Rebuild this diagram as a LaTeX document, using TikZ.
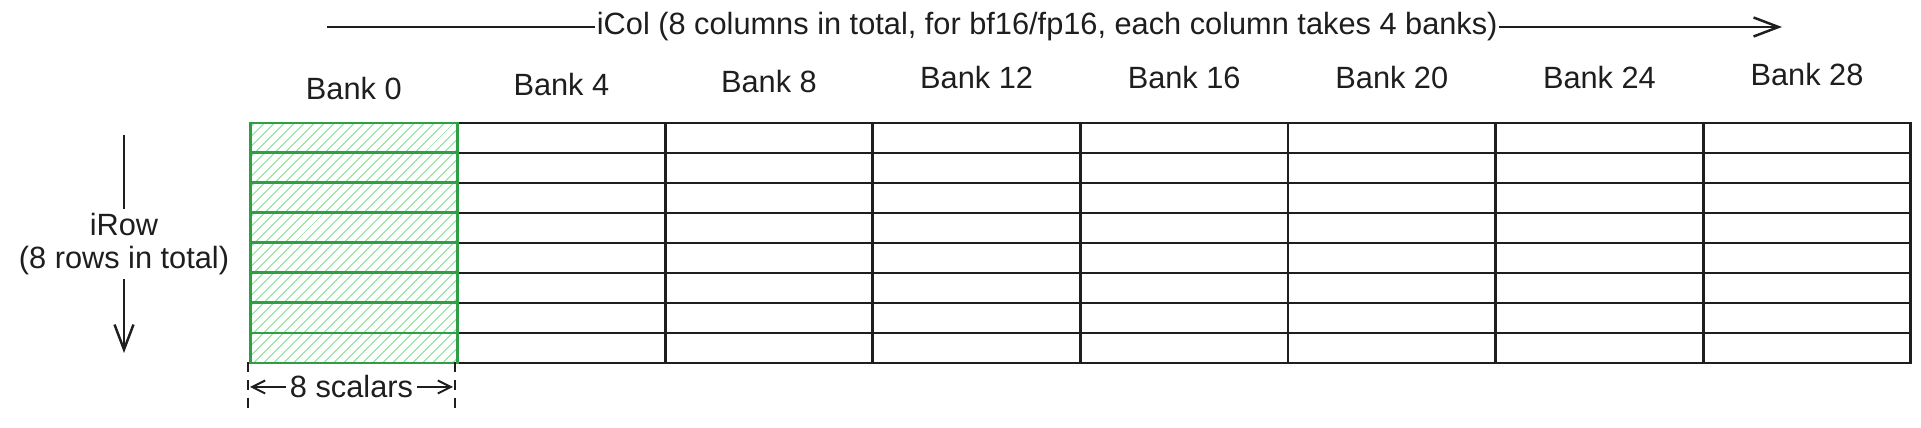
\documentclass[tikz,border=0pt]{standalone}
\usepackage{fontspec}
\setmainfont{Liberation Sans}
\usetikzlibrary{arrows.meta,patterns.meta}
\definecolor{ink}{HTML}{1E1E1E}
\definecolor{leaf}{HTML}{2F9E44}
\definecolor{hatch}{HTML}{9EE8A9}
\tikzset{
  cell/.style={draw=ink,line width=1.5pt,minimum width=4.152cm,minimum height=0.6cm,inner sep=0pt,outer sep=0pt},
  cellhl/.style={cell,draw=leaf,line width=1.7pt,pattern={Lines[angle=45,distance=4pt,line width=0.7pt]},pattern color=hatch},
  lbl/.style={font=\fontsize{17.5}{19}\selectfont,text=ink},
  bigarrow/.style={draw=ink,line width=1.4pt,-{Straight Barb[length=5mm,width=3.8mm]}},
  dimarrow/.style={draw=ink,line width=1.1pt,{Straight Barb[length=2.6mm,width=2.6mm]}-{Straight Barb[length=2.6mm,width=2.6mm]}},
  tick/.style={draw=ink,line width=1.1pt,dash pattern=on 2mm off 1.6mm}
}
\begin{document}
\begin{tikzpicture}[x=0.02cm,y=-0.02cm]
\useasboundingbox (0,0) rectangle (1921,428);
% grid, 8 columns x 8 rows
\foreach \c in {1,...,7}
  \foreach \r in {0,...,7}
    \node[cell] (c\c r\r) at ({250+207.6*(\c+.5)},{123+30*(\r+.5)}) {};
\foreach \r in {0,...,7}
  \node[cellhl] (c0r\r) at ({250+207.6*.5},{123+30*(\r+.5)}) {};
% bank labels
\foreach \c/\b/\y in {0/0/89,1/4/85,2/8/82,3/12/78,4/16/78,5/20/78,6/24/78,7/28/75}
  \node[lbl] (bank\c) at ({250+207.6*(\c+.5)},\y) {Bank \b};
% iCol
\coordinate (colstart) at (327,27);
\coordinate (colend) at (1782,27);
\draw[bigarrow] (colstart) -- node[lbl,fill=white,inner sep=1pt,pos=.495] (icol) {iCol (8 columns in total, for bf16/fp16, each column takes 4 banks)} (colend);
% iRow
\coordinate (rowtop) at (124,135);
\coordinate (rowbot) at (124,353);
\draw[bigarrow] (rowtop) -- node[lbl,fill=white,align=center,inner sep=2pt] (irow) {iRow\\(8 rows in total)} (rowbot);
% 8 scalars
\coordinate (tickLa) at (248,362);
\coordinate (tickLb) at (248,410);
\coordinate (tickRa) at (455,362);
\coordinate (tickRb) at (455,410);
\draw[tick] (tickLa) -- (tickLb);
\draw[tick] (tickRa) -- (tickRb);
\coordinate (dimL) at (250,387);
\coordinate (dimR) at (453,387);
\draw[dimarrow] (dimL) -- node[lbl,fill=white,inner sep=2pt] (scal) {8 scalars} (dimR);
\end{tikzpicture}
\end{document}
